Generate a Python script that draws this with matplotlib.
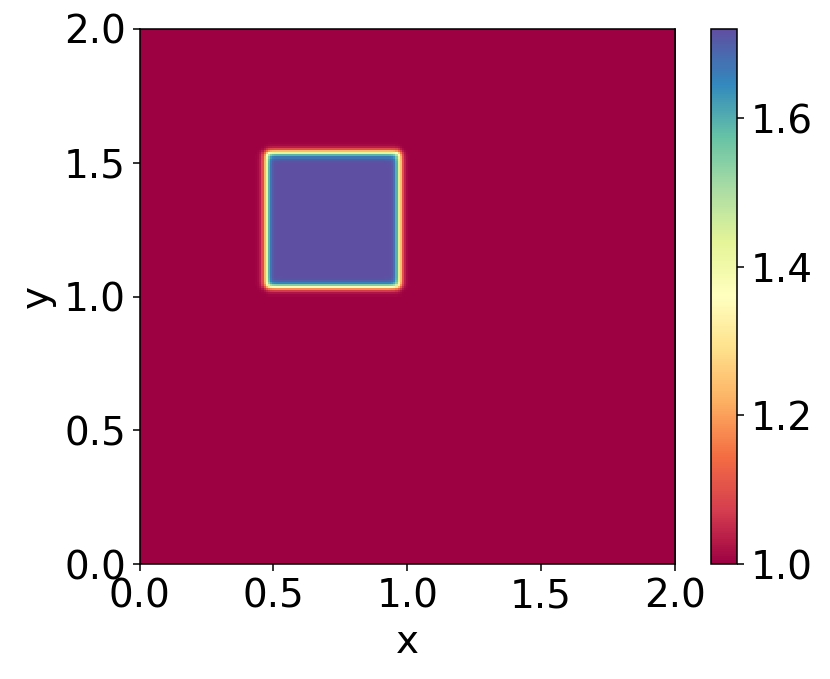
import numpy as np
import matplotlib
matplotlib.use("Agg")
import matplotlib.pyplot as plt

# field parameters
base_value = 1.0
peak_value = 1.72
square_x = [0.47, 0.968]
square_y = [1.035, 1.538]
edge_width = 0.014
n_cells = 256

x_ticks = [0.0, 0.5, 1.0, 1.5, 2.0]
y_ticks = [0.0, 0.5, 1.0, 1.5, 2.0]
cbar_ticks = [1.0, 1.2, 1.4, 1.6]

plt.rcParams["font.size"] = 20

xc = (np.arange(n_cells) + 0.5) * 2.0 / n_cells
X, Y = np.meshgrid(xc, xc)
fx = 0.5 * (np.tanh((X - square_x[0]) / edge_width) - np.tanh((X - square_x[1]) / edge_width))
fy = 0.5 * (np.tanh((Y - square_y[0]) / edge_width) - np.tanh((Y - square_y[1]) / edge_width))
field = base_value + (peak_value - base_value) * fx * fy

DPI = 140
W, H = 830, 679
fig = plt.figure(figsize=(W / DPI, H / DPI), dpi=DPI)
ax = fig.add_axes([139.5 / W, (H - 564) / H, (675 - 139.5) / W, (564 - 29) / H])
cax = fig.add_axes([710.7 / W, (H - 564) / H, 26.6 / W, (564 - 29) / H])

im = ax.imshow(field, origin="lower", extent=[0, 2, 0, 2], cmap="Spectral",
               vmin=base_value, vmax=field.max(), interpolation="nearest", aspect="auto")
ax.set_xticks(x_ticks)
ax.set_yticks(y_ticks)
ax.set_xlabel("x")
ax.set_ylabel("y")

cb = fig.colorbar(im, cax=cax)
cb.set_ticks(cbar_ticks)

fig.savefig("out.png", dpi=DPI)
